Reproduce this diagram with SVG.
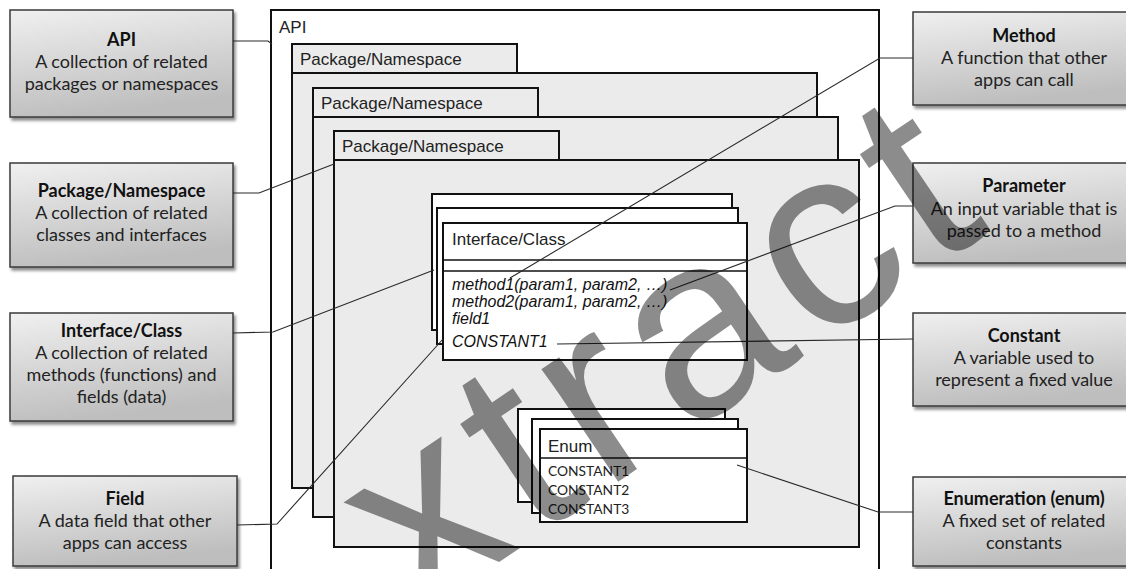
<svg xmlns="http://www.w3.org/2000/svg" width="1126" height="569" viewBox="0 0 1126 569">
<defs>
<linearGradient id="gbox" x1="0" y1="0" x2="0.25" y2="1">
<stop offset="0" stop-color="#f0f0f0"/>
<stop offset="1" stop-color="#bebebe"/>
</linearGradient>
<filter id="sh" x="-10%" y="-10%" width="130%" height="130%">
<feGaussianBlur in="SourceAlpha" stdDeviation="1.5"/>
<feOffset dx="2" dy="3" result="b"/>
<feComponentTransfer><feFuncA type="linear" slope="0.45"/></feComponentTransfer>
<feMerge><feMergeNode/><feMergeNode in="SourceGraphic"/></feMerge>
</filter>
</defs>
<style>
.note{fill:url(#gbox);stroke:#3a3a3a;stroke-width:1.5;filter:url(#sh)}
.nt{font-family:Lato,"Liberation Sans",sans-serif;font-size:18px;fill:#222;text-anchor:middle}
.nb{font-weight:bold;fill:#111}
.frame{fill:#fff;stroke:#111;stroke-width:2}
.pkg{fill:#ebebeb;stroke:#111;stroke-width:2}
.box{fill:#fff;stroke:#111;stroke-width:2}
.lbl{font-family:"Liberation Sans",Arial,sans-serif;font-size:17px;fill:#222}
.it{font-family:"Liberation Sans",Arial,sans-serif;font-size:16px;font-style:italic;fill:#111}
.ec{font-family:Lato,"Liberation Sans",sans-serif;font-size:13.8px;fill:#222}
.con{fill:none;stroke:#2a2a2a;stroke-width:1.1}
.wm{font-family:"Liberation Sans",Arial,sans-serif;font-size:258px;fill:#000;fill-opacity:0.45;letter-spacing:13px}
</style>

<g id="api-frame">
<rect class="frame" x="271" y="10" width="608" height="575"/>
<text class="lbl" x="279" y="33">API</text>
</g>

<g id="package1">
<rect class="pkg" x="292" y="73" width="525" height="415"/>
<rect class="pkg" x="292" y="44" width="225" height="29"/>
<text class="lbl" x="300" y="65">Package/Namespace</text>
</g>
<g id="package2">
<rect class="pkg" x="313" y="117" width="525" height="400"/>
<rect class="pkg" x="313" y="88" width="225" height="29"/>
<text class="lbl" x="321" y="109">Package/Namespace</text>
</g>
<g id="package3">
<rect class="pkg" x="334" y="160" width="525" height="387"/>
<rect class="pkg" x="334" y="131" width="225" height="29"/>
<text class="lbl" x="342" y="152">Package/Namespace</text>
</g>

<g id="interface-class">
<rect class="box" x="432" y="194" width="300" height="136"/>
<rect class="box" x="437" y="208" width="301" height="136"/>
<rect class="box" x="443" y="223" width="304" height="137"/>
<text class="lbl" x="452" y="245">Interface/Class</text>
<line x1="443" y1="260" x2="747" y2="260" stroke="#111" stroke-width="1.5"/>
<line x1="443" y1="271" x2="747" y2="271" stroke="#111" stroke-width="1.5"/>
<text class="it" x="452" y="290">method1(param1, param2, …)</text>
<text class="it" x="452" y="307">method2(param1, param2, …)</text>
<text class="it" x="452" y="324">field1</text>
<text class="it" x="452" y="347">CONSTANT1</text>
</g>

<g id="enum">
<rect class="box" x="518" y="409" width="207" height="93"/>
<rect class="box" x="532" y="419" width="206" height="94"/>
<rect class="box" x="540" y="429" width="207" height="93"/>
<text class="lbl" x="548" y="452">Enum</text>
<line x1="540" y1="458" x2="747" y2="458" stroke="#111" stroke-width="1.5"/>
<text class="ec" x="548" y="476">CONSTANT1</text>
<text class="ec" x="548" y="495">CONSTANT2</text>
<text class="ec" x="548" y="514">CONSTANT3</text>
</g>

<g id="note-api">
<rect class="note" x="10" y="10" width="223" height="107"/>
<text class="nt nb" x="121.5" y="46">API</text>
<text class="nt" x="121.5" y="68">A collection of related</text>
<text class="nt" x="121.5" y="90">packages or namespaces</text>
</g>
<g id="note-package">
<rect class="note" x="10" y="163" width="223" height="104"/>
<text class="nt nb" x="121.5" y="197">Package/Namespace</text>
<text class="nt" x="121.5" y="219">A collection of related</text>
<text class="nt" x="121.5" y="241">classes and interfaces</text>
</g>
<g id="note-interface">
<rect class="note" x="10" y="313" width="223" height="108"/>
<text class="nt nb" x="121.5" y="337">Interface/Class</text>
<text class="nt" x="121.5" y="359">A collection of related</text>
<text class="nt" x="121.5" y="381">methods (functions) and</text>
<text class="nt" x="121.5" y="403">fields (data)</text>
</g>
<g id="note-field">
<rect class="note" x="13" y="476" width="224" height="90"/>
<text class="nt nb" x="125" y="505">Field</text>
<text class="nt" x="125" y="527">A data field that other</text>
<text class="nt" x="125" y="549">apps can access</text>
</g>
<g id="note-method">
<rect class="note" x="913" y="12" width="223" height="93"/>
<text class="nt nb" x="1024" y="42">Method</text>
<text class="nt" x="1024" y="64">A function that other</text>
<text class="nt" x="1024" y="86">apps can call</text>
</g>
<g id="note-parameter">
<rect class="note" x="913" y="163" width="223" height="100"/>
<text class="nt nb" x="1024" y="192">Parameter</text>
<text class="nt" x="1024" y="215">An input variable that is</text>
<text class="nt" x="1024" y="237">passed to a method</text>
</g>
<g id="note-constant">
<rect class="note" x="913" y="313" width="223" height="93"/>
<text class="nt nb" x="1024" y="342">Constant</text>
<text class="nt" x="1024" y="364">A variable used to</text>
<text class="nt" x="1024" y="386">represent a fixed value</text>
</g>
<g id="note-enum">
<rect class="note" x="913" y="477" width="223" height="89"/>
<text class="nt nb" x="1024" y="505">Enumeration (enum)</text>
<text class="nt" x="1024" y="527">A fixed set of related</text>
<text class="nt" x="1024" y="549">constants</text>
</g>

<g id="connectors">
<polyline class="con" points="233,41 268,41 272,44"/>
<polyline class="con" points="233,193 259,193 334,164"/>
<polyline class="con" points="233,333 273,332 434,270"/>
<polyline class="con" points="237,525 277,524 443,339"/>
<polyline class="con" points="913,58 880,58 510,278"/>
<polyline class="con" points="913,206 895,206 670,290"/>
<polyline class="con" points="913,339 557,344"/>
<polyline class="con" points="913,512 878,512 737,465"/>
</g>

<g id="watermark">
<text class="wm" transform="translate(262,722) rotate(-34)"><tspan dx="-21" dy="124">E</tspan><tspan dx="21" dy="-124">xtract</tspan></text>
</g>
</svg>
